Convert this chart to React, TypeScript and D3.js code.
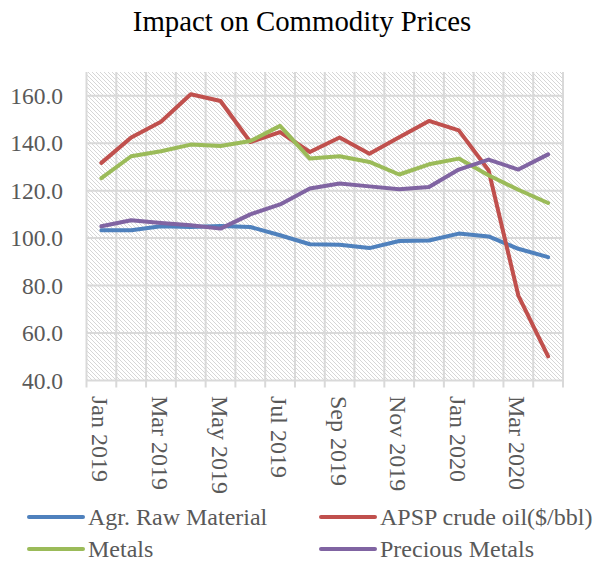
import React from "react";
import * as d3 from "d3";

const months = [
  "Jan 2019", "Feb 2019", "Mar 2019", "Apr 2019", "May 2019", "Jun 2019",
  "Jul 2019", "Aug 2019", "Sep 2019", "Oct 2019", "Nov 2019", "Dec 2019",
  "Jan 2020", "Feb 2020", "Mar 2020", "Apr 2020",
];
const agrRaw = [103.3, 103.3, 105.0, 104.7, 105.1, 104.7, 101.2, 97.4, 97.2, 95.8, 98.8, 99.0, 101.9, 100.7, 95.5, 92.0];
const crudeOil = [131.7, 142.4, 149.0, 160.6, 157.8, 140.5, 144.7, 136.3, 142.4, 135.6, 142.5, 149.4, 145.4, 128.6, 75.8, 50.2];
const metals = [125.3, 134.5, 136.6, 139.4, 138.8, 140.9, 147.3, 133.5, 134.5, 132.1, 126.8, 131.1, 133.5, 126.5, 120.4, 114.8];
const precious = [105.0, 107.5, 106.4, 105.4, 104.0, 110.0, 114.2, 120.9, 123.0, 121.8, 120.6, 121.5, 128.9, 133.1, 128.9, 135.3];
const yTicks = [40, 60, 80, 100, 120, 140, 160];

const seriesNames = ["Agr. Raw Material", "APSP crude oil($/bbl)", "Metals", "Precious Metals"];
const seriesData = [agrRaw, crudeOil, metals, precious];
const colors = ["#4F81BD", "#C0504D", "#9BBB59", "#8064A2"];

export default function App() {
  const W = 603, H = 562;
  const left = 86.5, right = 563, top = 72, bottom = 380.5;
  const x = d3.scaleBand<string>().domain(months).range([left, right]).paddingInner(0).paddingOuter(0);
  const y = d3.scaleLinear().domain([40, 170]).range([bottom, top]);
  const line = d3.line<number>()
    .x((_, i) => (x(months[i]) as number) + x.bandwidth() / 2)
    .y((d) => y(d));
  const grid = "#d9d9d9";
  const textCol = "#595959";
  const font = "'Liberation Serif', 'Times New Roman', serif";
  const boundaries = months.map((m) => x(m) as number).concat([right]);

  const legendItems = [
    { lx: 29, ty: 517 },
    { lx: 321, ty: 517 },
    { lx: 29, ty: 549 },
    { lx: 321, ty: 549 },
  ];

  return (
    <svg width={W} height={H} style={{ position: "absolute", left: 0, top: 0 }} fontFamily={font}>
      <defs>
        <pattern id="hatch" patternUnits="userSpaceOnUse" width={4} height={4}>
          <rect width={4} height={4} fill="#ffffff" />
          <path d="M0,0 L4,4 M3,-1 L5,1 M-1,3 L1,5" stroke="#d6d6d6" strokeWidth={1} />
        </pattern>
      </defs>
      <rect x={0} y={0} width={W} height={H} fill="#ffffff" />
      <text x={302} y={31} textAnchor="middle" fontSize={28.8} fill="#000000">
        Impact on Commodity Prices
      </text>
      <rect x={left} y={top} width={right - left} height={bottom - top} fill="url(#hatch)" />
      {yTicks.map((t) => (
        <line key={"h" + t} x1={left} x2={right} y1={y(t)} y2={y(t)} stroke={grid} strokeWidth={2} />
      ))}
      {boundaries.map((b, i) => (
        <line key={"v" + i} x1={b} x2={b} y1={top} y2={bottom + 7} stroke={grid} strokeWidth={2} />
      ))}
      {yTicks.map((t) => (
        <text key={"yl" + t} x={63} y={y(t)} textAnchor="end" dominantBaseline="central" fontSize={23.5} fill={textCol}>
          {t.toFixed(1)}
        </text>
      ))}
      {months.map((m, i) =>
        i % 2 === 0 ? (
          <text
            key={"xl" + m}
            transform={`translate(${(x(m) as number) + x.bandwidth() / 2 - 1},${396}) rotate(90)`}
            textAnchor="start"
            dominantBaseline="central"
            fontSize={24}
            fill={textCol}
          >
            {m}
          </text>
        ) : null
      )}
      {seriesData.map((s, k) => (
        <path key={"s" + k} d={line(s) || ""} fill="none" stroke={colors[k]} strokeWidth={4} strokeLinejoin="round" strokeLinecap="round" />
      ))}
      {legendItems.map((it, k) => (
        <g key={"lg" + k}>
          <line x1={it.lx} x2={it.lx + 54} y1={it.ty} y2={it.ty} stroke={colors[k]} strokeWidth={4} strokeLinecap="round" />
          <text x={it.lx + 59} y={it.ty} dominantBaseline="central" fontSize={24} fill={textCol}>
            {seriesNames[k]}
          </text>
        </g>
      ))}
    </svg>
  );
}
